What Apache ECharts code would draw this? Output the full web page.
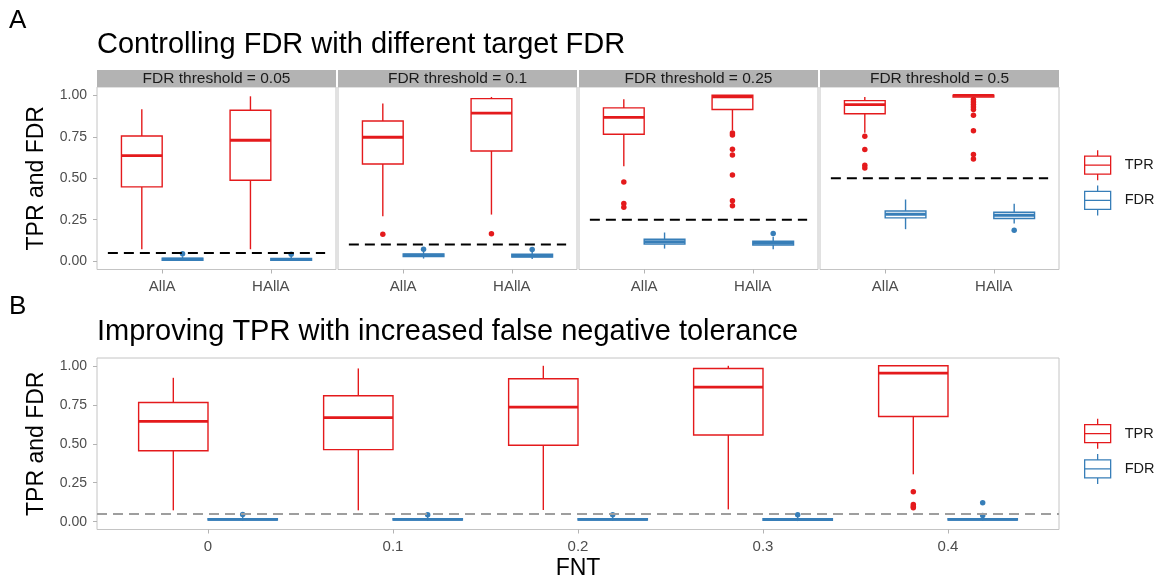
<!DOCTYPE html>
<html><head><meta charset="utf-8">
<script src="https://cdn.jsdelivr.net/npm/echarts@6/dist/echarts.min.js"></script>
<style>html,body{margin:0;padding:0;background:#fff}#c{width:1166px;height:580px}</style>
</head><body><div id="c"></div>
<script>
// ---------------- data ----------------
const methods = ['AllA', 'HAllA'];
const facetThresholds = [0.05, 0.1, 0.25, 0.5];
const facetLabels = ['FDR threshold = 0.05', 'FDR threshold = 0.1', 'FDR threshold = 0.25', 'FDR threshold = 0.5'];
const yTicks = [0, 0.25, 0.5, 0.75, 1];

// box stats: [min, Q1, median, Q3, max] for AllA, HAllA
const tprThr005 = [[0.072, 0.448, 0.636, 0.755, 0.916], [0.072, 0.488, 0.729, 0.910, 0.994]];
const fdrThr005 = [[0.003, 0.006, 0.012, 0.018, 0.030], [0.002, 0.005, 0.010, 0.016, 0.028]];
const tprOutThr005 = [[], []];
const fdrOutThr005 = [[0.045], [0.042]];

const tprThr010 = [[0.271, 0.586, 0.747, 0.845, 0.950], [0.281, 0.664, 0.893, 0.980, 0.990]];
const fdrThr010 = [[0.016, 0.028, 0.036, 0.044, 0.060], [0.014, 0.025, 0.033, 0.042, 0.058]];
const tprOutThr010 = [[0.163], [0.165]];
const fdrOutThr010 = [[0.072], [0.070]];

const tprThr025 = [[0.572, 0.765, 0.867, 0.924, 0.976], [0.790, 0.914, 0.990, 1.000, 1.000]];
const fdrThr025 = [[0.076, 0.104, 0.118, 0.132, 0.173], [0.072, 0.097, 0.108, 0.120, 0.147]];
const tprOutThr025 = [[0.478, 0.348, 0.325], [0.772, 0.760, 0.675, 0.640, 0.520, 0.365, 0.335]];
const fdrOutThr025 = [[], [0.167]];

const tprThr050 = [[0.775, 0.889, 0.944, 0.968, 0.990], [0.985, 0.990, 1.000, 1.000, 1.000]];
const fdrThr050 = [[0.193, 0.261, 0.283, 0.303, 0.372], [0.227, 0.257, 0.277, 0.295, 0.347]];
const tprOutThr050 = [[0.753, 0.673, 0.578, 0.562], [0.974, 0.960, 0.944, 0.930, 0.914, 0.880, 0.787, 0.643, 0.616]];
const fdrOutThr050 = [[], [0.187]];

const fntLabels = ['0', '0.1', '0.2', '0.3', '0.4'];
const fntThreshold = 0.05;
const tprFnt = [
  [0.073, 0.455, 0.643, 0.765, 0.923],
  [0.073, 0.462, 0.667, 0.808, 0.983],
  [0.075, 0.490, 0.735, 0.917, 1.000],
  [0.079, 0.556, 0.863, 0.983, 1.000],
  [0.304, 0.675, 0.953, 1.000, 1.000]
];
const fdrFnt = [
  [0.005, 0.010, 0.015, 0.020, 0.030],
  [0.005, 0.010, 0.015, 0.020, 0.030],
  [0.005, 0.010, 0.015, 0.020, 0.030],
  [0.004, 0.009, 0.014, 0.019, 0.030],
  [0.005, 0.010, 0.015, 0.020, 0.030]
];
const tprOutFnt = [[], [], [], [], [0.192, 0.110, 0.097, 0.090]];
const fdrOutFnt = [[0.047], [0.045], [0.045], [0.045], [0.040, 0.122]];

// ---------------- style / layout ----------------
const FONT = 'Liberation Sans, Arial, Helvetica, sans-serif';
const RED = '#E41A1C', BLUE = '#377EB8';
const BORDER = '#c4c4c4', TICK = '#b3b3b3', AXTXT = '#4d4d4d';
const DODGE = 0.1875, BOXW = 0.375;
const facetLefts = [97, 338, 579, 820], facetW = 239, aTop = 87, aH = 182.5;
const bLeft = 97, bTop = 358, bW = 962, bH = 171.5;
const stripTop = 70, stripH = 17;

const tprA = [tprThr005, tprThr010, tprThr025, tprThr050];
const fdrA = [fdrThr005, fdrThr010, fdrThr025, fdrThr050];
const tprOutA = [tprOutThr005, tprOutThr010, tprOutThr025, tprOutThr050];
const fdrOutA = [fdrOutThr005, fdrOutThr010, fdrOutThr025, fdrOutThr050];

function boxSeries(name, color, g, stats, offset) {
  return {
    type: 'custom', name, xAxisIndex: g, yAxisIndex: g, silent: true,
    itemStyle: { color },
    encode: { x: 0, y: [1, 2, 3, 4, 5] },
    data: stats.map((s, i) => [i + offset].concat(s)),
    z: 2,
    renderItem: function (params, api) {
      const x = api.value(0);
      const p = [1, 2, 3, 4, 5].map(d => api.coord([x, api.value(d)]));
      const cx = p[0][0];
      const hw = api.size([BOXW, 0])[0] / 2;
      const lw = 1.4;
      return {
        type: 'group', children: [
          { type: 'line', shape: { x1: cx, y1: p[4][1], x2: cx, y2: p[3][1] }, style: { stroke: color, lineWidth: lw } },
          { type: 'line', shape: { x1: cx, y1: p[1][1], x2: cx, y2: p[0][1] }, style: { stroke: color, lineWidth: lw } },
          { type: 'rect', shape: { x: cx - hw, y: p[3][1], width: 2 * hw, height: p[1][1] - p[3][1] }, style: { fill: '#fff', stroke: color, lineWidth: lw } },
          { type: 'line', shape: { x1: cx - hw, y1: p[2][1], x2: cx + hw, y2: p[2][1] }, style: { stroke: color, lineWidth: 2.8 } }
        ]
      };
    }
  };
}
function outlierSeries(name, color, g, outs, offset) {
  const data = [];
  outs.forEach((arr, i) => arr.forEach(v => data.push([i + offset, v])));
  return { type: 'scatter', name, xAxisIndex: g, yAxisIndex: g, data, symbolSize: 5.5, itemStyle: { color, opacity: 1 }, z: 3, silent: true };
}
function dashSeries(g, x0, x1, y, color) {
  return { type: 'line', xAxisIndex: g, yAxisIndex: g, data: [[x0, y], [x1, y]], symbol: 'none', silent: true, z: 5,
    lineStyle: { color, width: 2, type: [10, 6] } };
}

const grids = [], xAxes = [], yAxes = [], series = [], graphics = [];
function yAxisDef(g, showLabels) {
  return {
    type: 'value', gridIndex: g, min: -0.05, max: 1.05, position: 'left',
    axisLine: { show: false, onZero: false }, splitLine: { show: false },
    axisTick: { show: showLabels, length: 4, lineStyle: { color: TICK }, customValues: yTicks },
    axisLabel: { show: showLabels, customValues: yTicks, formatter: v => v.toFixed(2), color: AXTXT, fontSize: 14, fontFamily: FONT, margin: 10 },
    name: showLabels ? 'TPR and FDR' : '', nameLocation: 'middle', nameGap: 49, nameRotate: 90,
    nameTextStyle: { fontSize: 23, color: '#000', fontFamily: FONT }
  };
}
function xAxisDef(g, labels, extra) {
  const ticks = labels.map((l, i) => i);
  return Object.assign({
    type: 'value', gridIndex: g, min: -0.6, max: labels.length - 0.4, position: 'bottom',
    axisLine: { show: false, onZero: false }, splitLine: { show: false },
    axisTick: { show: true, length: 4, lineStyle: { color: TICK }, customValues: ticks },
    axisLabel: { customValues: ticks, formatter: v => labels[Math.round(v)], color: AXTXT, fontSize: 15, fontFamily: FONT, margin: 10 }
  }, extra || {});
}

facetLefts.forEach((left, f) => {
  grids.push({ left, top: aTop, width: facetW, height: aH, show: true, borderColor: BORDER, borderWidth: 1, backgroundColor: '#fff', outerBoundsMode: 'none' });
  xAxes.push(xAxisDef(f, methods));
  yAxes.push(yAxisDef(f, f === 0));
  series.push(boxSeries('TPR', RED, f, tprA[f], -DODGE));
  series.push(boxSeries('FDR', BLUE, f, fdrA[f], DODGE));
  series.push(outlierSeries('TPR', RED, f, tprOutA[f], -DODGE));
  series.push(outlierSeries('FDR', BLUE, f, fdrOutA[f], DODGE));
  series.push(dashSeries(f, -0.5, methods.length - 0.5, facetThresholds[f], '#000'));
  graphics.push({ type: 'rect', shape: { x: left, y: stripTop, width: facetW, height: stripH }, style: { fill: '#b3b3b3' }, silent: true });
  graphics.push({ type: 'text', x: left + facetW / 2, y: stripTop + stripH / 2 + 0.5,
    style: { text: facetLabels[f], align: 'center', verticalAlign: 'middle', fontSize: 15.5, fill: '#1a1a1a', fontFamily: FONT }, silent: true });
});

// panel B
const gB = 4;
grids.push({ left: bLeft, top: bTop, width: bW, height: bH, show: true, borderColor: BORDER, borderWidth: 1, backgroundColor: '#fff', outerBoundsMode: 'none' });
xAxes.push(xAxisDef(gB, fntLabels, {
  name: 'FNT', nameLocation: 'middle', nameGap: 28, nameTextStyle: { fontSize: 23, color: '#000', fontFamily: FONT }
}));
yAxes.push(yAxisDef(gB, true));
series.push(boxSeries('TPR', RED, gB, tprFnt, -DODGE));
series.push(boxSeries('FDR', BLUE, gB, fdrFnt, DODGE));
series.push(outlierSeries('TPR', RED, gB, tprOutFnt, -DODGE));
series.push(outlierSeries('FDR', BLUE, gB, fdrOutFnt, DODGE));
series.push(dashSeries(gB, -0.6, fntLabels.length - 0.4, fntThreshold, '#9e9e9e'));

const ICON = 'path://M14,0L14,6M1,6L27,6L27,24L1,24ZM1,15L27,15M14,24L14,30';
function legendDef(top) {
  return {
    orient: 'vertical', left: 1084, top, itemWidth: 28, itemHeight: 30, itemGap: 4, padding: 0,
    selectedMode: false,
    data: [
      { name: 'TPR', icon: ICON, itemStyle: { color: '#fff', borderColor: RED, borderWidth: 1.3 } },
      { name: 'FDR', icon: ICON, itemStyle: { color: '#fff', borderColor: BLUE, borderWidth: 1.3 } }
    ],
    textStyle: { fontSize: 14.5, color: '#1a1a1a', fontFamily: FONT, padding: [0, 0, 0, 8] }
  };
}

const titleStyle = (size) => ({ fontSize: size, fontWeight: 'normal', color: '#000', fontFamily: FONT });
const option = {
  animation: false,
  backgroundColor: '#fff',
  title: [
    { text: 'A', left: 9, top: 8, padding: 0, textStyle: titleStyle(26) },
    { text: 'Controlling FDR with different target FDR', left: 97, top: 30, padding: 0, textStyle: titleStyle(29) },
    { text: 'B', left: 9, top: 294, padding: 0, textStyle: titleStyle(26) },
    { text: 'Improving TPR with increased false negative tolerance', left: 97, top: 317, padding: 0, textStyle: titleStyle(29) }
  ],
  legend: [legendDef(149.5), legendDef(418)],
  grid: grids, xAxis: xAxes, yAxis: yAxes, series,
  graphic: graphics
};
const chart = echarts.init(document.getElementById('c'), null, { renderer: 'canvas' });
chart.setOption(option);
</script></body></html>
